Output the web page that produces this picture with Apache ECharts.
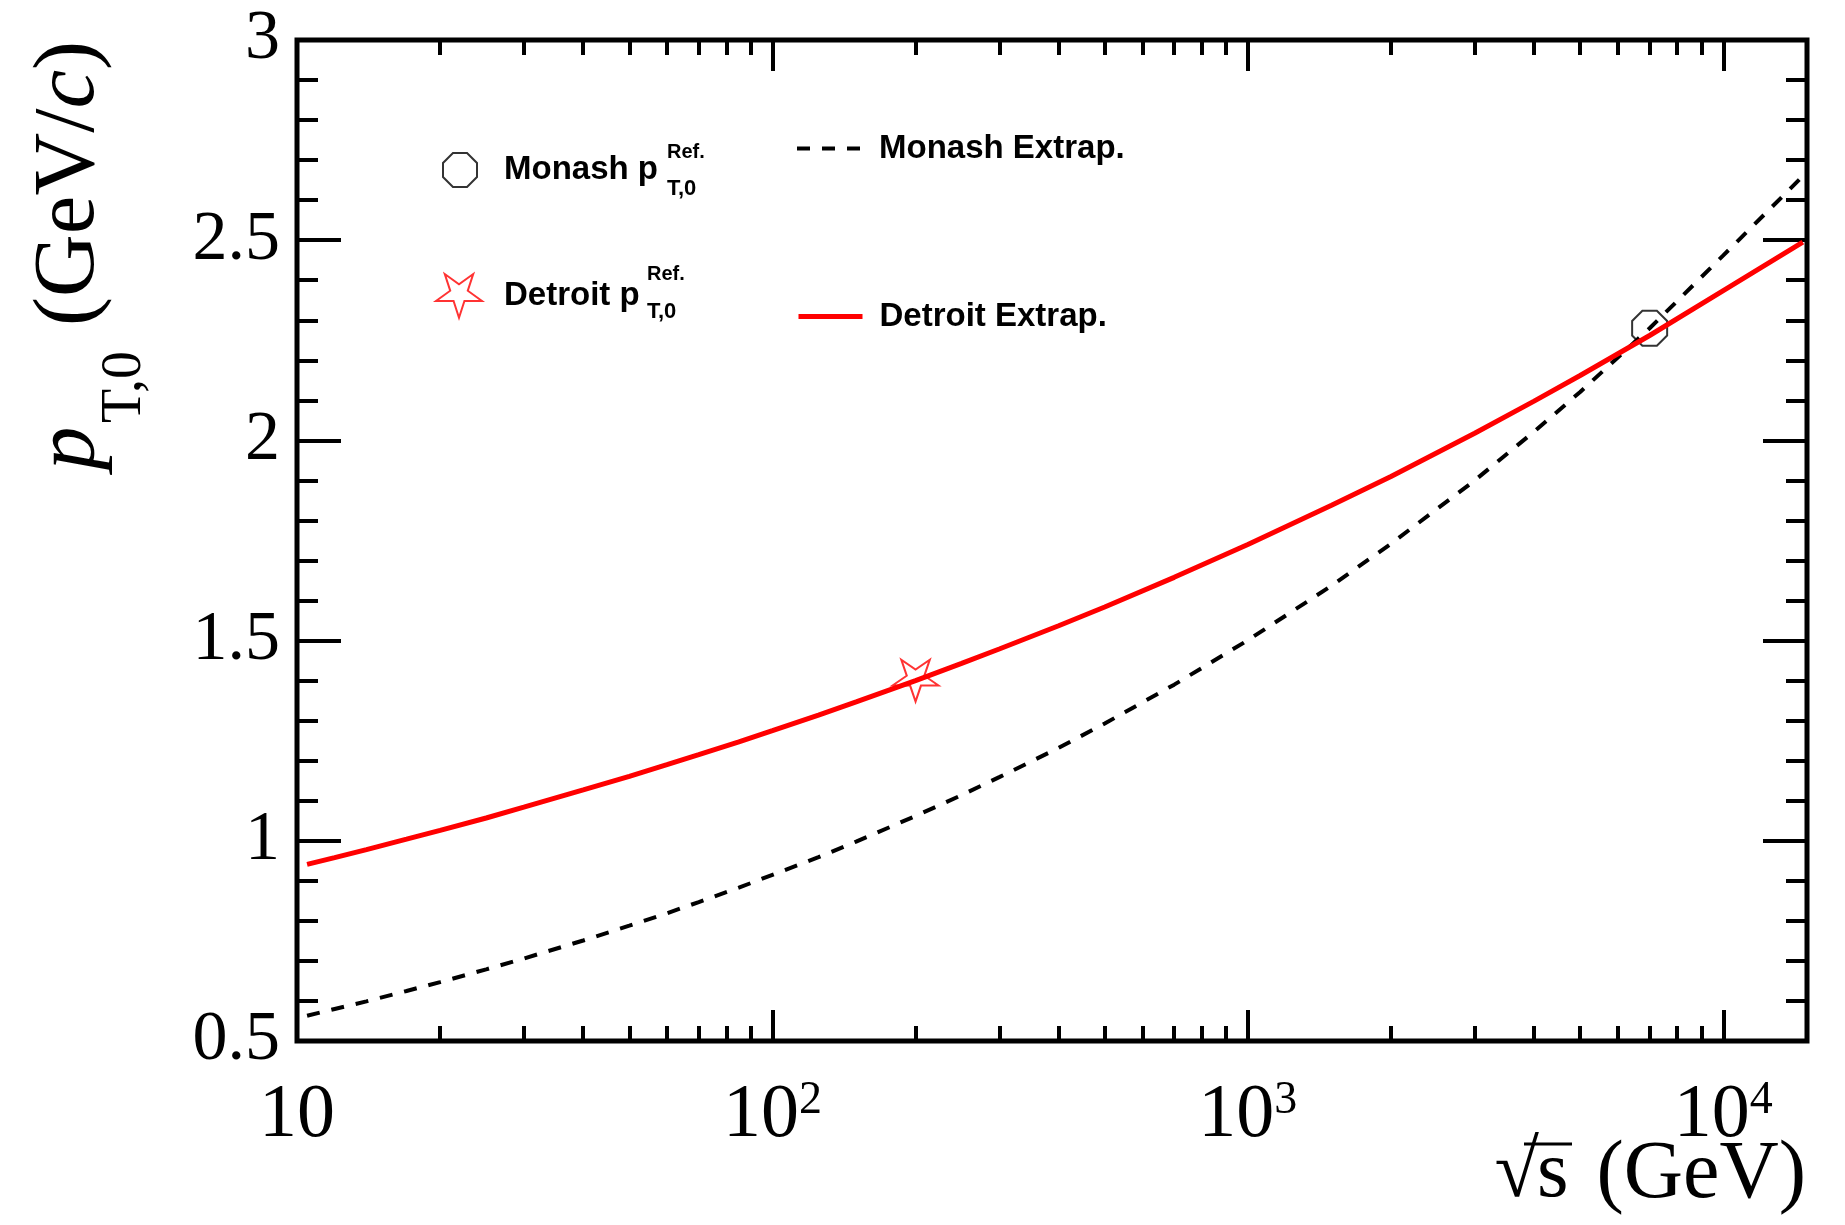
<!DOCTYPE html>
<html><head><meta charset="utf-8">
<script src="https://cdn.jsdelivr.net/npm/echarts@6/dist/echarts.min.js"></script>
<style>html,body{margin:0;padding:0;background:#fff}#chart{width:1845px;height:1225px}</style>
</head><body><div id="chart"></div>
<script>
// ---- data ----
const sqrtS = [10.5, 12, 14, 17, 20, 25, 30, 40, 50, 60, 70, 85, 100, 125, 150, 200, 250, 300, 400, 500, 700, 1000, 1500, 2000, 3000, 4000, 5000, 7000, 10000, 14700];
const monashExtrap = [0.563, 0.580, 0.599, 0.625, 0.647, 0.679, 0.706, 0.751, 0.788, 0.819, 0.847, 0.883, 0.915, 0.959, 0.998, 1.062, 1.114, 1.159, 1.232, 1.293, 1.390, 1.501, 1.637, 1.742, 1.900, 2.022, 2.121, 2.280, 2.462, 2.66];
const detroitExtrap = [0.941, 0.958, 0.978, 1.004, 1.026, 1.057, 1.084, 1.127, 1.161, 1.190, 1.215, 1.247, 1.275, 1.314, 1.347, 1.400, 1.443, 1.479, 1.537, 1.584, 1.658, 1.740, 1.838, 1.910, 2.018, 2.098, 2.162, 2.262, 2.374, 2.495];
const monashRefX = [7000];
const monashRefY = [2.28];
const detroitRefX = [200];
const detroitRefY = [1.40];
const xTickValues = [10, 100, 1000, 10000];
const xTickLabels = ['10', '10{sup|2}', '10{sup|3}', '10{sup|4}'];
const yMin = 0.5, yMax = 3, yStep = 0.5;
const xMin = 10, xMax = 15000;

// minor tick positions for the log axis (2..9 x each decade)
const xMinorTicks = [];
[10, 100, 1000].forEach(d => { for (let k = 2; k <= 9; k++) xMinorTicks.push(k * d); });

const SERIF = '"Liberation Serif", "Times New Roman", serif';
const SANS = '"Liberation Sans", Arial, sans-serif';
const OCTAGON = 'path://M192.4,138.3 L138.3,192.4 L61.7,192.4 L7.6,138.3 L7.6,61.7 L61.7,7.6 L138.3,7.6 L192.4,61.7 Z';
const STAR = 'path://M100,200 L77.55,130.9 L4.9,130.9 L63.7,88.2 L41.2,19.1 L100,61.8 L158.8,19.1 L136.3,88.2 L195.1,130.9 L122.45,130.9 Z';

const zip = (xs, ys) => xs.map((x, i) => [x, ys[i]]);

function xLabel(v) {
  for (let i = 0; i < xTickValues.length; i++) {
    if (Math.abs(v - xTickValues[i]) / xTickValues[i] < 1e-6) return xTickLabels[i];
  }
  return '';
}

const baseX = {
  type: 'log', logBase: 10, min: xMin, max: xMax,
  axisLine: { show: false }, splitLine: { show: false }, minorTick: { show: false }
};
const baseY = {
  type: 'value', min: yMin, max: yMax, interval: yStep,
  axisLine: { show: false }, splitLine: { show: false },
  axisTick: { show: true, inside: true, length: 44, lineStyle: { color: '#000', width: 4 } },
  minorTick: { show: true, splitNumber: 5, length: 21, lineStyle: { color: '#000', width: 4 } }
};

const legendText = (pad, lh) => ({ fontFamily: SANS, fontWeight: 'bold', fontSize: 33, lineHeight: lh, color: '#000', padding: pad });

const option = {
  animation: false,
  backgroundColor: '#fff',
  grid: { left: 297, top: 40, width: 1510, height: 1001, show: true, borderColor: '#000', borderWidth: 5, backgroundColor: 'transparent' },
  xAxis: [
    Object.assign({}, baseX, {
      position: 'bottom',
      axisTick: { show: true, inside: true, length: 31, customValues: xTickValues, lineStyle: { color: '#000', width: 4 } },
      axisLabel: {
        show: true, customValues: xTickValues, formatter: xLabel, margin: 37,
        fontFamily: SERIF, fontSize: 76, lineHeight: 76, color: '#000',
        rich: { sup: { fontFamily: SERIF, fontSize: 46, lineHeight: 30, verticalAlign: 'top', color: '#000' } }
      }
    }),
    Object.assign({}, baseX, {
      position: 'bottom',
      axisTick: { show: true, inside: true, length: 15, customValues: xMinorTicks, lineStyle: { color: '#000', width: 4 } },
      axisLabel: { show: false }
    }),
    Object.assign({}, baseX, {
      position: 'top',
      axisTick: { show: true, inside: true, length: 31, customValues: xTickValues, lineStyle: { color: '#000', width: 4 } },
      axisLabel: { show: false }
    }),
    Object.assign({}, baseX, {
      position: 'top',
      axisTick: { show: true, inside: true, length: 15, customValues: xMinorTicks, lineStyle: { color: '#000', width: 4 } },
      axisLabel: { show: false }
    })
  ],
  yAxis: [
    Object.assign({}, baseY, {
      position: 'left',
      axisLabel: { show: true, margin: 17, fontFamily: SERIF, fontSize: 70, color: '#000' }
    }),
    Object.assign({}, baseY, { position: 'right', axisLabel: { show: false } })
  ],
  legend: [
    {
      data: [{ name: 'Monash ref', icon: OCTAGON }], left: 442, top: 152, padding: 0,
      itemWidth: 34, itemHeight: 34, selectedMode: false, formatter: () => 'Monash p',
      itemStyle: { color: 'rgba(0,0,0,0)', borderColor: '#000', borderWidth: 2 },
      textStyle: legendText([0, 0, 14, 22], 20)
    },
    {
      data: [{ name: 'Detroit ref', icon: STAR }], left: 435, top: 273, padding: 0,
      itemWidth: 46, itemHeight: 44, selectedMode: false, formatter: () => 'Detroit p',
      itemStyle: { color: 'rgba(0,0,0,0)', borderColor: '#ff0000', borderWidth: 2 },
      textStyle: legendText([0, 0, 14, 17], 20)
    },
    {
      data: ['Monash Extrap.'], left: 795, top: 132, padding: 0,
      itemWidth: 66, itemHeight: 14, selectedMode: false,
      itemStyle: { opacity: 0, color: 'rgba(0,0,0,0)', borderWidth: 0 },
      lineStyle: { width: 4 },
      textStyle: legendText([0, 0, 3, 11], 10)
    },
    {
      data: ['Detroit Extrap.'], left: 796, top: 300, padding: 0,
      itemWidth: 64, itemHeight: 14, selectedMode: false,
      itemStyle: { opacity: 0, color: 'rgba(0,0,0,0)', borderWidth: 0 },
      lineStyle: { width: 5 },
      textStyle: legendText([0, 0, 5, 12], 9)
    }
  ],
  series: [
    {
      name: 'Monash ref', type: 'scatter', xAxisIndex: 0, yAxisIndex: 0,
      data: zip(monashRefX, monashRefY), symbol: OCTAGON, symbolSize: 35, symbolKeepAspect: true,
      itemStyle: { color: 'rgba(0,0,0,0)', borderColor: '#000', borderWidth: 2 }, z: 2
    },
    {
      name: 'Detroit ref', type: 'scatter', xAxisIndex: 0, yAxisIndex: 0,
      data: zip(detroitRefX, detroitRefY), symbol: STAR, symbolSize: [46, 44], symbolKeepAspect: true,
      itemStyle: { color: 'rgba(0,0,0,0)', borderColor: '#ff0000', borderWidth: 2 }, z: 2
    },
    {
      name: 'Monash Extrap.', type: 'line', xAxisIndex: 0, yAxisIndex: 0,
      data: zip(sqrtS, monashExtrap), symbol: 'none', smooth: false,
      lineStyle: { color: '#000', width: 4, type: [13, 12] }, itemStyle: { color: '#000' }, z: 3
    },
    {
      name: 'Detroit Extrap.', type: 'line', xAxisIndex: 0, yAxisIndex: 0,
      data: zip(sqrtS, detroitExtrap), symbol: 'none', smooth: false,
      lineStyle: { color: '#ff0000', width: 5 }, itemStyle: { color: '#ff0000' }, z: 4
    }
  ],
  graphic: [
    // y-axis title, rotated (reads bottom to top)
    {
      type: 'group', x: 100, y: 476, rotation: Math.PI / 2,
      children: [
        { type: 'text', x: 6, y: -29.4, style: { text: 'p', fontFamily: SERIF, fontStyle: 'italic', fontSize: 87, fill: '#000', align: 'left', verticalAlign: 'middle' } },
        { type: 'text', x: 53, y: 25, style: { text: 'T,0', fontFamily: SERIF, fontSize: 56, fill: '#000', align: 'left', verticalAlign: 'middle' } },
        { type: 'text', x: 150, y: -29.4, style: { text: '(GeV/{i|c})', fontFamily: SERIF, fontSize: 87, fill: '#000', align: 'left', verticalAlign: 'middle',
          rich: { i: { fontFamily: SERIF, fontStyle: 'italic', fontSize: 87, fill: '#000' } } } }
      ]
    },
    // x-axis title
    { type: 'text', x: 1539, y: 1175, style: { text: '\u221A', fontFamily: SERIF, fontSize: 81, fill: '#000', align: 'right', verticalAlign: 'middle' } },
    { type: 'text', x: 1537, y: 1175, style: { text: 's', fontFamily: SERIF, fontSize: 81, fill: '#000', align: 'left', verticalAlign: 'middle' } },
    { type: 'text', x: 1806, y: 1175, style: { text: '(GeV)', fontFamily: SERIF, fontSize: 82, fill: '#000', align: 'right', verticalAlign: 'middle' } },
    { type: 'line', shape: { x1: 1524, y1: 1144, x2: 1572, y2: 1144 }, style: { stroke: '#000', lineWidth: 3 } },
    // legend super/subscripts
    { type: 'text', x: 667, y: 152, style: { text: 'Ref.', fontFamily: SANS, fontWeight: 'bold', fontSize: 20, fill: '#000', align: 'left', verticalAlign: 'middle' } },
    { type: 'text', x: 667, y: 189, style: { text: 'T,0', fontFamily: SANS, fontWeight: 'bold', fontSize: 22, fill: '#000', align: 'left', verticalAlign: 'middle' } },
    { type: 'text', x: 647, y: 274, style: { text: 'Ref.', fontFamily: SANS, fontWeight: 'bold', fontSize: 20, fill: '#000', align: 'left', verticalAlign: 'middle' } },
    { type: 'text', x: 647, y: 312, style: { text: 'T,0', fontFamily: SANS, fontWeight: 'bold', fontSize: 22, fill: '#000', align: 'left', verticalAlign: 'middle' } }
  ]
};

const chart = echarts.init(document.getElementById('chart'), null, { renderer: 'canvas' });
chart.setOption(option);
</script>
</body></html>
